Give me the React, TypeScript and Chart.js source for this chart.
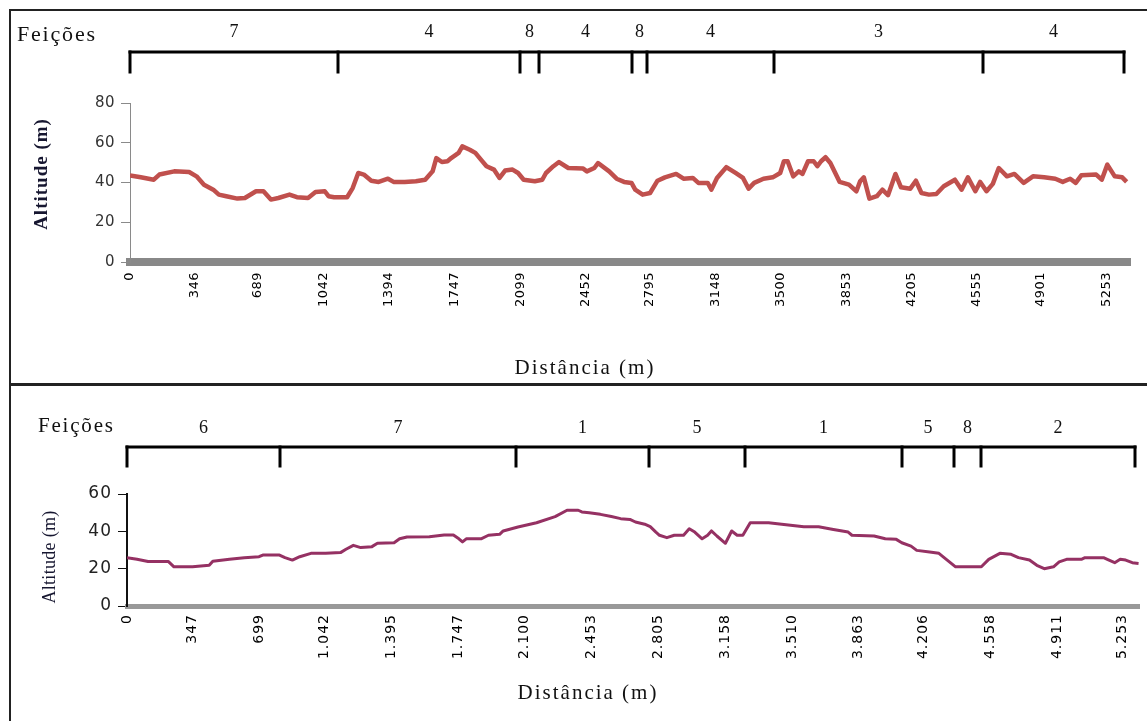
import { useEffect, useRef } from 'react';
import { Chart, registerables } from 'chart.js';

Chart.register(...registerables);

// ---------- Top profile ----------
const TOP_DISTANCE = [
  0, 58, 128, 158, 238, 318, 358, 398, 448, 478, 518, 578, 618, 678, 718, 758, 798, 858, 898, 958,
  998, 1048, 1068, 1098, 1168, 1198, 1228, 1258, 1298, 1338, 1388, 1418, 1478, 1538, 1588, 1628, 1648, 1678, 1708, 1728,
  1768, 1788, 1828, 1858, 1888, 1918, 1958, 1988, 2018, 2058, 2088, 2118, 2178, 2218, 2238, 2278, 2308, 2358, 2438, 2458,
  2498, 2518, 2578, 2618, 2658, 2698, 2718, 2758, 2798, 2838, 2878, 2938, 2978, 3028, 3058, 3108, 3128, 3158, 3208, 3258,
  3298, 3328, 3358, 3408, 3458, 3498, 3518, 3538, 3568, 3598, 3618, 3648, 3678, 3698, 3718, 3742, 3768, 3818, 3868, 3908,
  3928, 3948, 3978, 4018, 4048, 4078, 4118, 4148, 4198, 4228, 4258, 4298, 4338, 4378, 4438, 4474, 4508, 4548, 4574, 4608,
  4642, 4674, 4718, 4758, 4808, 4858, 4918, 4978, 5018, 5058, 5088, 5118, 5198, 5228, 5258, 5298, 5338, 5362,
];
const TOP_ALTITUDE = [
  43.6, 42.6, 41.4, 44.0, 45.6, 45.3, 43.1, 38.9, 36.4, 33.9, 33.1, 31.9, 32.2, 35.6, 35.6, 31.4, 32.2, 33.9, 32.6, 32.2,
  35.2, 35.6, 33.1, 32.6, 32.6, 37.2, 44.8, 44.0, 40.9, 40.3, 41.9, 40.3, 40.3, 40.6, 41.4, 45.6, 52.3, 50.3, 50.7, 52.3,
  54.9, 58.2, 56.5, 54.9, 51.5, 48.2, 46.5, 42.3, 46.0, 46.5, 44.8, 41.4, 40.6, 41.4, 44.8, 48.2, 50.3, 47.3, 47.0, 45.6,
  47.3, 49.8, 45.6, 41.9, 40.3, 39.8, 36.4, 33.9, 34.7, 40.9, 42.6, 44.3, 41.9, 42.3, 39.8, 39.8, 36.4, 42.3, 47.7, 44.8,
  42.3, 36.9, 39.8, 41.9, 42.6, 44.8, 50.7, 50.7, 43.1, 45.6, 44.3, 50.7, 50.7, 48.2, 50.7, 52.7, 49.8, 40.3, 38.9, 35.6,
  40.6, 42.6, 31.9, 33.1, 36.4, 33.6, 44.3, 37.6, 36.9, 40.9, 34.7, 33.9, 34.2, 38.1, 41.4, 36.4, 42.6, 35.6, 40.3, 35.6,
  39.3, 47.3, 43.1, 44.3, 39.8, 43.1, 42.6, 41.9, 40.3, 41.9, 39.8, 43.6, 44.0, 41.4, 49.0, 43.1, 42.6, 40.3,
];
const TOP_TICKS = [0, 346, 689, 1042, 1394, 1747, 2099, 2452, 2795, 3148, 3500, 3853, 4205, 4555, 4901, 5253];
const TOP_TICK_LABELS = ['0', '346', '689', '1042', '1394', '1747', '2099', '2452', '2795', '3148', '3500', '3853', '4205', '4555', '4901', '5253'];
const TOP_FEATURE_BOUNDS = [0, 1119, 2098, 2200, 2700, 2781, 3464, 4589, 5347];
const TOP_FEATURE_LABELS = ['7', '4', '8', '4', '8', '4', '3', '4'];

// ---------- Bottom profile ----------
const BOTTOM_DISTANCE = [
  0, 53, 111, 219, 248, 346, 434, 453, 541, 619, 697, 717, 805, 834, 873, 912, 971, 1049, 1127, 1156,
  1195, 1234, 1293, 1322, 1410, 1439, 1478, 1596, 1674, 1723, 1752, 1771, 1791, 1869, 1908, 1967, 1986, 2064, 2162, 2260,
  2323, 2382, 2401, 2440, 2499, 2557, 2606, 2655, 2684, 2733, 2762, 2792, 2811, 2850, 2889, 2938, 2968, 2997, 3036, 3065,
  3085, 3114, 3159, 3192, 3221, 3251, 3290, 3387, 3456, 3573, 3651, 3729, 3807, 3827, 3944, 4003, 4061, 4090, 4139, 4169,
  4237, 4286, 4325, 4374, 4510, 4549, 4608, 4667, 4706, 4764, 4803, 4842, 4891, 4921, 4960, 5038, 5057, 5155, 5175, 5214,
  5243, 5272, 5307, 5340,
];
const BOTTOM_ALTITUDE = [
  25.9, 25.0, 23.8, 23.8, 21.0, 21.0, 21.8, 24.0, 25.0, 25.9, 26.4, 27.3, 27.3, 25.9, 24.6, 26.4, 28.2, 28.2, 28.6, 30.4,
  32.5, 31.3, 31.8, 33.6, 33.9, 36.0, 37.0, 37.1, 38.0, 38.0, 36.0, 34.3, 36.0, 36.0, 37.9, 38.4, 40.2, 42.3, 44.6, 47.9,
  51.3, 51.3, 50.4, 50.0, 49.1, 47.9, 46.8, 46.4, 45.0, 43.8, 42.5, 39.6, 37.9, 36.6, 37.9, 37.9, 41.4, 39.6, 36.0, 37.9,
  40.2, 37.5, 33.6, 40.2, 37.9, 37.9, 44.6, 44.6, 43.8, 42.5, 42.5, 41.0, 39.6, 37.9, 37.5, 36.0, 35.7, 33.9, 32.1, 29.8,
  28.9, 28.2, 25.0, 21.0, 21.0, 25.0, 28.2, 27.7, 25.9, 24.6, 21.8, 20.0, 21.0, 23.6, 25.0, 25.0, 25.9, 25.9, 25.0, 23.2,
  25.0, 24.6, 23.2, 22.8,
];
const BOTTOM_TICKS = [0, 347, 699, 1042, 1395, 1747, 2100, 2453, 2805, 3158, 3510, 3863, 4206, 4558, 4911, 5253];
const BOTTOM_TICK_LABELS = ['0', '347', '699', '1.042', '1.395', '1.747', '2.100', '2.453', '2.805', '3.158', '3.510', '3.863', '4.206', '4.558', '4.911', '5.253'];
const BOTTOM_FEATURE_BOUNDS = [0, 807, 2052, 2753, 3265, 4093, 4367, 4509, 5322];
const BOTTOM_FEATURE_LABELS = ['6', '7', '1', '5', '1', '5', '8', '2'];

const SERIF = '"Liberation Serif", "Times New Roman", serif';
const SANS = '"DejaVu Sans", "Liberation Sans", Arial, sans-serif';

type Txt = { x: number; y: number; font: string; spacing: number };

type PanelCfg = {
  key: string;
  left: number;
  top: number;
  width: number;
  height: number;
  distance: number[];
  altitude: number[];
  ticks: number[];
  tickLabels: string[];
  bounds: number[];
  featureLabels: string[];
  xMax: number;
  yMax: number;
  color: string;
  lineWidth: number;
  padTop: number;
  padRight: number;
  yAxisWidth: number;
  xAxisHeight: number;
  xBorderColor: string;
  xBorderWidth: number;
  yBorderColor: string;
  yBorderWidth: number;
  yTickColor: string;
  yTickFont: number;
  xTickFont: number;
  xTickPad: number;
  tickSpacing: string;
  featTitle: Txt;
  bracketY: number;
  bracketBottom: number;
  labelY: number;
  yTitle: Txt;
  xTitle: Txt;
};

function makeOverlay(c: PanelCfg) {
  return {
    id: 'overlay_' + c.key,
    beforeDraw(chart: any) {
      (chart.ctx as any).letterSpacing = c.tickSpacing;
    },
    beforeDatasetsDraw(chart: any) {
      (chart.ctx as any).letterSpacing = '0px';
    },
    afterDraw(chart: any) {
      const ctx = chart.ctx as any;
      const x = chart.scales.x;
      ctx.save();
      ctx.letterSpacing = '0px';
      // Feições brackets
      const px = c.bounds.map((b) => Math.round(x.getPixelForValue(b)));
      ctx.strokeStyle = '#000';
      ctx.lineWidth = 3;
      ctx.lineCap = 'square';
      ctx.beginPath();
      ctx.moveTo(px[0], c.bracketY);
      ctx.lineTo(px[px.length - 1], c.bracketY);
      ctx.stroke();
      px.forEach((p) => {
        ctx.beginPath();
        ctx.moveTo(p, c.bracketY);
        ctx.lineTo(p, c.bracketBottom);
        ctx.stroke();
      });
      ctx.fillStyle = '#111';
      ctx.textBaseline = 'middle';
      ctx.textAlign = 'center';
      ctx.font = '18px ' + SERIF;
      c.featureLabels.forEach((lab, i) => {
        ctx.fillText(lab, (px[i] + px[i + 1]) / 2, c.labelY);
      });
      ctx.textAlign = 'left';
      ctx.font = c.featTitle.font;
      ctx.letterSpacing = c.featTitle.spacing + 'px';
      ctx.fillText('Feições', c.featTitle.x, c.featTitle.y);
      // axis titles
      ctx.textAlign = 'center';
      ctx.font = c.xTitle.font;
      ctx.letterSpacing = c.xTitle.spacing + 'px';
      ctx.fillText('Distância (m)', c.xTitle.x, c.xTitle.y);
      ctx.save();
      ctx.translate(c.yTitle.x, c.yTitle.y);
      ctx.rotate(-Math.PI / 2);
      ctx.font = c.yTitle.font;
      ctx.letterSpacing = c.yTitle.spacing + 'px';
      ctx.fillStyle = '#161630';
      ctx.fillText('Altitude (m)', 0, 0);
      ctx.restore();
      ctx.letterSpacing = '0px';
      ctx.restore();
    },
  };
}

function Profile({ c }: { c: PanelCfg }) {
  const ref = useRef<HTMLCanvasElement>(null);
  useEffect(() => {
    const chart = new Chart(ref.current as HTMLCanvasElement, {
      type: 'line',
      data: {
        datasets: [
          {
            data: c.distance.map((d, i) => ({ x: d, y: c.altitude[i] })),
            borderColor: c.color,
            borderWidth: c.lineWidth,
            pointRadius: 0,
            tension: 0,
            fill: false,
            borderJoinStyle: 'round',
          },
        ],
      },
      options: {
        animation: false,
        responsive: false,
        devicePixelRatio: 1,
        layout: { padding: { top: c.padTop, right: c.padRight, left: 0, bottom: 0 } },
        plugins: { legend: { display: false }, tooltip: { enabled: false } },
        scales: {
          x: {
            type: 'linear',
            min: 0,
            max: c.xMax,
            afterBuildTicks: (ax: any) => {
              ax.ticks = c.ticks.map((v) => ({ value: v }));
            },
            afterFit: (ax: any) => {
              ax.height = c.xAxisHeight;
            },
            ticks: {
              autoSkip: false,
              minRotation: 90,
              maxRotation: 90,
              padding: c.xTickPad,
              color: '#000',
              font: { family: SANS, size: c.xTickFont },
              callback: (_v: any, i: number) => c.tickLabels[i],
            },
            grid: { display: false, drawTicks: false },
            border: { display: true, color: c.xBorderColor, width: c.xBorderWidth },
          },
          y: {
            min: 0,
            max: c.yMax,
            afterFit: (ax: any) => {
              ax.width = c.yAxisWidth;
            },
            ticks: {
              stepSize: 20,
              padding: 6,
              color: c.yTickColor,
              font: { family: SANS, size: c.yTickFont },
            },
            grid: { drawOnChartArea: false, tickLength: 9, color: c.yBorderColor, lineWidth: 1 },
            border: { display: true, color: c.yBorderColor, width: c.yBorderWidth },
          },
        },
      },
      plugins: [makeOverlay(c)],
    } as any);
    return () => chart.destroy();
  }, []);
  return (
    <canvas
      ref={ref}
      width={c.width}
      height={c.height}
      style={{ position: 'absolute', left: c.left, top: c.top, width: c.width, height: c.height }}
    />
  );
}

const TOP_PANEL: PanelCfg = {
  key: 'top',
  left: 10,
  top: 10,
  width: 1137,
  height: 374,
  distance: TOP_DISTANCE,
  altitude: TOP_ALTITUDE,
  ticks: TOP_TICKS,
  tickLabels: TOP_TICK_LABELS,
  bounds: TOP_FEATURE_BOUNDS,
  featureLabels: TOP_FEATURE_LABELS,
  xMax: 5380,
  yMax: 80,
  color: '#C0504D',
  lineWidth: 4.5,
  padTop: 93,
  padRight: 17,
  yAxisWidth: 120,
  xAxisHeight: 122,
  xBorderColor: '#888888',
  xBorderWidth: 8,
  yBorderColor: '#8a8a8a',
  yBorderWidth: 1,
  yTickColor: '#333',
  yTickFont: 15,
  xTickFont: 13,
  xTickPad: 10,
  tickSpacing: '0.5px',
  featTitle: { x: 7, y: 25, font: '22px ' + SERIF, spacing: 1.8 },
  bracketY: 42,
  bracketBottom: 62,
  labelY: 22,
  yTitle: { x: 32, y: 164, font: 'bold 19px ' + SERIF, spacing: 1 },
  xTitle: { x: 575, y: 358, font: '21px ' + SERIF, spacing: 2 },
};

const BOTTOM_PANEL: PanelCfg = {
  key: 'bottom',
  left: 10,
  top: 385,
  width: 1137,
  height: 336,
  distance: BOTTOM_DISTANCE,
  altitude: BOTTOM_ALTITUDE,
  ticks: BOTTOM_TICKS,
  tickLabels: BOTTOM_TICK_LABELS,
  bounds: BOTTOM_FEATURE_BOUNDS,
  featureLabels: BOTTOM_FEATURE_LABELS,
  xMax: 5343,
  yMax: 60,
  color: '#953163',
  lineWidth: 3,
  padTop: 109,
  padRight: 7,
  yAxisWidth: 117,
  xAxisHeight: 115,
  xBorderColor: '#999999',
  xBorderWidth: 5,
  yBorderColor: '#111',
  yBorderWidth: 2,
  yTickColor: '#222',
  yTickFont: 17,
  xTickFont: 14,
  xTickPad: 8,
  tickSpacing: '1px',
  featTitle: { x: 28, y: 41, font: '21px ' + SERIF, spacing: 1.8 },
  bracketY: 62,
  bracketBottom: 81,
  labelY: 43,
  yTitle: { x: 40, y: 172, font: '18px ' + SERIF, spacing: 0.3 },
  xTitle: { x: 578, y: 308, font: '21px ' + SERIF, spacing: 2 },
};

export default function App() {
  return (
    <div style={{ position: 'fixed', left: 0, top: 0, width: 1147, height: 721, background: '#fff', overflow: 'hidden' }}>
      <Profile c={TOP_PANEL} />
      <Profile c={BOTTOM_PANEL} />
      <div style={{ position: 'absolute', left: 9, top: 9, width: 1138, height: 2, background: '#222' }} />
      <div style={{ position: 'absolute', left: 9, top: 9, width: 2, height: 712, background: '#222' }} />
      <div style={{ position: 'absolute', left: 9, top: 383, width: 1138, height: 3, background: '#222' }} />
    </div>
  );
}
